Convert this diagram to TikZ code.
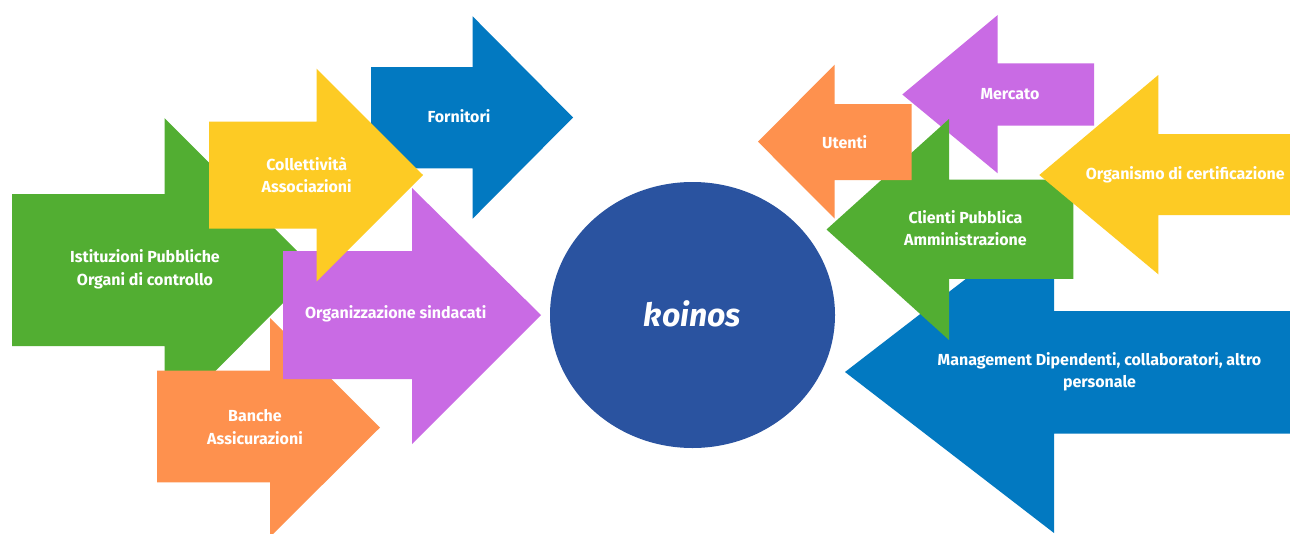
\documentclass[tikz,border=0pt]{standalone}
\usepackage{fontspec}
\setmainfont{Fira Sans}
\definecolor{cgreen}{RGB}{82,174,50}
\definecolor{cyellow}{RGB}{253,203,36}
\definecolor{cblue}{RGB}{2,121,193}
\definecolor{cpurple}{RGB}{201,107,228}
\definecolor{corange}{RGB}{254,145,78}
\definecolor{ccircle}{RGB}{42,83,160}
\tikzset{
  lbl/.style={text=white, align=center, font=\bfseries\fontsize{16}{22.5}\selectfont, inner sep=0pt},
}
% block arrow: color, back x, body top, body bottom, head base x, head top, head bottom, tip x, tip y
\newcommand\rarrowshape[9]{\fill[#1] (#2,#3) -- (#5,#3) -- (#5,#6) -- (#8,#9) -- (#5,#7) -- (#5,#4) -- (#2,#4) -- cycle;}
\begin{document}
\begin{tikzpicture}[x=1pt,y=-1pt]
\useasboundingbox (0,0) rectangle (1290,533);
\clip (0,0) rectangle (1290,533);
\fill[white] (0,0) rectangle (1290,533);
% left arrows
\rarrowshape{cgreen}{12}{194}{346}{164.5}{118}{422}{316}{270}
\rarrowshape{corange}{157}{370.7}{482.3}{270}{318}{537}{380}{427.5}
\rarrowshape{cpurple}{283}{251}{379}{412}{188}{444}{541}{315}
\rarrowshape{cblue}{371}{67}{168.4}{472.6}{16.3}{218.7}{573}{117.5}
\rarrowshape{cyellow}{209}{121.5}{228.5}{316.5}{68.7}{281.6}{423}{175}
% right arrows (left-pointing)
\rarrowshape{cblue}{1300}{311}{433.7}{1054}{211}{533}{845}{372}
\rarrowshape{cpurple}{1094}{63.3}{125.7}{997.7}{15}{173.3}{902.3}{94.5}
\rarrowshape{cgreen}{1073.3}{179.5}{278.8}{949}{119}{340}{826.5}{229.5}
\rarrowshape{corange}{911.7}{104}{180}{834.7}{64.6}{218.7}{758}{141.7}
\rarrowshape{cyellow}{1300}{134}{215}{1158.3}{75}{274.3}{1039.3}{175}
% centre
\fill[ccircle] (692.5,315) ellipse [x radius=142.5, y radius=133];
\node[text=white, font=\bfseries\itshape\fontsize{32}{36}\selectfont, inner sep=0pt] (koinos) at (692.5,314) {koinos};
% labels
\node[lbl] (istituzioni) at (145,269.5) {Istituzioni Pubbliche\\Organi di controllo};
\node[lbl] (collettivita) at (306.7,175) {Collettività\\Associazioni};
\node[lbl] (fornitori) at (459,116.5) {Fornitori};
\node[lbl] (organizzazione) at (395.7,314) {Organizzazione sindacati};
\node[lbl] (banche) at (255,427) {Banche\\Assicurazioni};
\node[lbl] (utenti) at (844.7,141.7) {Utenti};
\node[lbl] (mercato) at (1010,94.3) {Mercato};
\node[lbl] (clienti) at (965.4,228) {Clienti Pubblica\\Amministrazione};
\node[lbl] (organismo) at (1185.2,175) {Organismo di certificazione};
\node[lbl] (management) at (1099.5,372) {Management Dipendenti, collaboratori, altro\\personale};
\end{tikzpicture}
\end{document}
